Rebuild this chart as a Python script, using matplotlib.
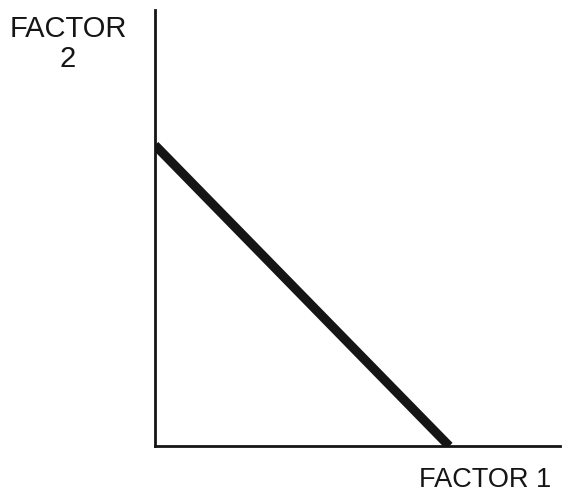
import matplotlib
matplotlib.use("Agg")
from matplotlib import pyplot as plt

# budget-style line between two factors
factor1 = [0.0, 7.26]
factor2 = [6.9, 0.0]
x_label = "FACTOR 1"
y_label = "FACTOR\n2"

plt.rcParams['font.family'] = ['Liberation Sans', 'DejaVu Sans']

fig = plt.figure(figsize=(5.63, 4.99), dpi=100)
ax = fig.add_axes([0.2753, 0.106, 0.72, 0.874])
ax.plot(factor1, factor2, color='#151515', lw=6.6, solid_capstyle='butt')
ax.set_xlim(0, 10)
ax.set_ylim(0, 10)
ax.spines['top'].set_visible(False)
ax.spines['right'].set_visible(False)
for s in ('left', 'bottom'):
    ax.spines[s].set_linewidth(2.0)
    ax.spines[s].set_color('#151515')
ax.set_xticks([])
ax.set_yticks([])

fig.text(68 / 563, 1 - 44 / 499, y_label, ha='center', va='center',
         fontsize=21, color='#151515', linespacing=1.05)
fig.text(485 / 563, 1 - 480 / 499, x_label, ha='center', va='center',
         fontsize=19.5, color='#151515')

fig.savefig("out.png", dpi=100, facecolor='white')
